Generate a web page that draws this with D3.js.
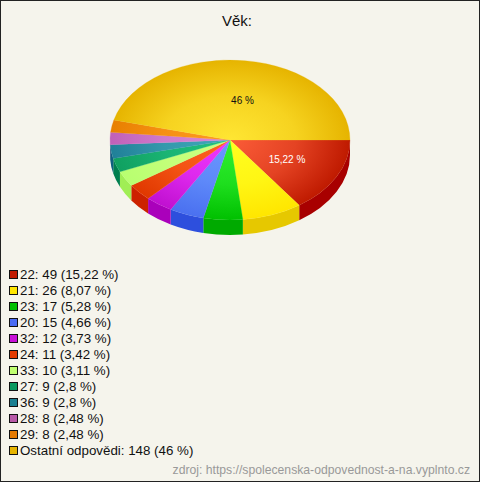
<!DOCTYPE html>
<html><head><meta charset="utf-8">
<script src="https://cdn.jsdelivr.net/npm/d3@7"></script>
<style>
html,body{margin:0;padding:0;background:#f5f4ec}
text{font-family:"Liberation Sans",Arial,sans-serif}
</style></head><body>
<script>
const categories = ["22","21","23","20","32","24","33","27","36","28","29","Ostatní odpovědi"];
const counts = [49,26,17,15,12,11,10,9,9,8,8,148];
const percentLabels = ["15,22","8,07","5,28","4,66","3,73","3,42","3,11","2,8","2,8","2,48","2,48","46"];
const swatchColors = ["#c01a00","#ffe600","#00c000","#4a6cf5","#c810d8","#e63c00","#c0ff70","#0a9a60","#1a7f90","#b85aa8","#e67a00","#e6b400"];
const innerColors = ["#fb5c38","#ffff20","#30f030","#6a98ff","#f038ff","#ff6420","#ccff80","#20c080","#40a8b8","#d888d8","#ff9a20","#ffe633"];
const outerColors = ["#bf1a00","#ffe600","#00c000","#4a70f0","#c010d0","#e03800","#b8ff70","#10a060","#208098","#c060b8","#e88000","#e6b400"];
const wallColors  = ["#a80000","#e6c800","#00aa00","#2d4fdd","#aa00bb","#cc2200","#a0ee55","#007f4f","#0f5f80","#8a3f88","#b85f00","#b89000"];

const W=480,H=482,cx=230,cy=140,rx=120,ry=80,depth=15;
const svg=d3.select("body").append("svg").attr("width",W).attr("height",H).style("display","block");
svg.append("rect").attr("x",0.5).attr("y",0.5).attr("width",W-1).attr("height",H-1).attr("fill","#f5f4ec").attr("stroke","#222");

const pie=d3.pie().value(d=>d).sort(null).startAngle(Math.PI/2).endAngle(Math.PI/2+2*Math.PI);
const arcs=pie(counts);
const arc=d3.arc().innerRadius(0).outerRadius(rx);
const defs=svg.append("defs");
arcs.forEach((a,i)=>{
  const g=defs.append("radialGradient").attr("id","g"+i).attr("gradientUnits","userSpaceOnUse")
    .attr("cx",0).attr("cy",0).attr("r",rx);
  const mix=d3.interpolateRgb(innerColors[i],outerColors[i]);
  g.append("stop").attr("offset",0).attr("stop-color",innerColors[i]);
  g.append("stop").attr("offset",0.55).attr("stop-color",mix(0.38));
  g.append("stop").attr("offset",1).attr("stop-color",outerColors[i]);
});
// walls: visible part of each slice's rim (front half of the ellipse)
const px=t=>cx+rx*Math.sin(t), py=t=>cy-ry*Math.cos(t);
const wall=svg.append("g");
arcs.forEach((a,i)=>{
  const s=Math.max(a.startAngle,Math.PI/2), e=Math.min(a.endAngle,3*Math.PI/2);
  if(e<=s) return;
  wall.append("path").attr("fill",wallColors[i]).attr("d",
    `M${px(s)},${py(s)}A${rx},${ry} 0 0 1 ${px(e)},${py(e)}L${px(e)},${py(e)+depth}A${rx},${ry} 0 0 0 ${px(s)},${py(s)+depth}Z`);
});
const face=svg.append("g").attr("transform",`translate(${cx},${cy}) scale(1,${ry/rx})`);
face.selectAll("path").data(arcs).join("path").attr("d",arc).attr("fill",(d,i)=>`url(#g${i})`)
  .attr("stroke",(d,i)=>`url(#g${i})`).attr("stroke-width",0.3);

svg.append("text").attr("x",237).attr("y",26).attr("text-anchor","middle").attr("font-size",15).attr("fill","#111").text("Věk:");
svg.append("text").attr("x",242.5).attr("y",104).attr("text-anchor","middle").attr("font-size",10).attr("fill","#111").text(percentLabels[11]+" %");
svg.append("text").attr("x",287).attr("y",163).attr("text-anchor","middle").attr("font-size",10).attr("fill","#fff").text(percentLabels[0]+" %");

const y=d3.scalePoint().domain(categories).range([275,451]);
const leg=svg.append("g").selectAll("g").data(categories).join("g").attr("transform",d=>`translate(0,${y(d)})`);
leg.append("rect").attr("x",9.5).attr("y",-4.5).attr("width",8).attr("height",8).attr("fill",(d,i)=>swatchColors[i]).attr("stroke","#111");
leg.append("text").attr("x",20).attr("y",4).attr("font-size",13.33).attr("fill","#111")
  .text((d,i)=>`${d}: ${counts[i]} (${percentLabels[i]} %)`);

svg.append("text").attr("x",470).attr("y",474).attr("text-anchor","end").attr("font-size",12.2).attr("fill","#999")
  .text("zdroj: https://spolecenska-odpovednost-a-na.vyplnto.cz");
</script></body></html>
